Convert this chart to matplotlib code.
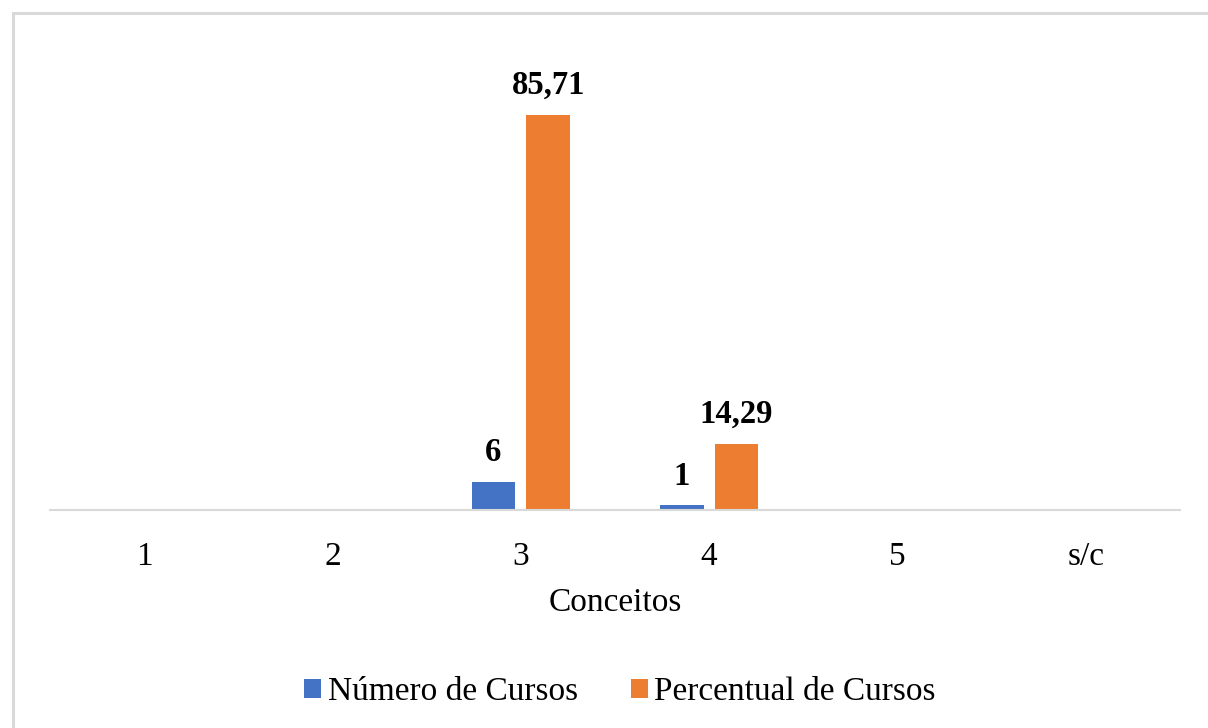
import numpy as np
import matplotlib
matplotlib.use("Agg")
import matplotlib.pyplot as plt
from matplotlib.patches import Rectangle

## data
conceitos = ["1", "2", "3", "4", "5", "s/c"]
numero_cursos = [0, 0, 6, 1, 0, 0]
percentual_cursos = [0, 0, 85.71, 14.29, 0, 0]

plt.rcParams['font.family'] = ['Liberation Serif', 'DejaVu Serif']

azul = "#4472C4"
laranja = "#ED7D31"
cinza = "#D9D9D9"

fig = plt.figure(figsize=(12.08, 7.28), dpi=100)
ax = fig.add_axes([50 / 1208, 1 - 510 / 728, 1130 / 1208, 461 / 728])

x = np.arange(len(conceitos))
w = 0.23
off = 0.145

b1 = ax.bar(x - off, numero_cursos, w, color=azul, label="Número de Cursos")
b2 = ax.bar(x + off, percentual_cursos, w, color=laranja, label="Percentual de Cursos")

def fmt(v):
    if v == 0:
        return ""
    if float(v).is_integer():
        return "%d" % v
    return ("%.2f" % v).replace(".", ",")

ax.bar_label(b1, labels=[fmt(v) for v in numero_cursos], padding=10,
             fontsize=23.5, fontweight="bold")
ax.bar_label(b2, labels=[fmt(v) for v in percentual_cursos], padding=10,
             fontsize=23.5, fontweight="bold")

ax.set_xlim(-0.5, len(conceitos) - 0.5)
ax.set_ylim(0, 100)
ax.set_xticks(x)
ax.set_xticklabels(conceitos, fontsize=24)
ax.tick_params(axis="x", length=0, pad=23)
ax.set_yticks([])
for s in ["top", "right", "left"]:
    ax.spines[s].set_visible(False)
ax.spines["bottom"].set_color(cinza)
ax.spines["bottom"].set_linewidth(1.5)
ax.set_xlabel("Conceitos", fontsize=24, labelpad=11)

fig.legend(loc="center", bbox_to_anchor=(620 / 1208, 1 - 692 / 728), ncol=2,
           frameon=False, fontsize=24, handlelength=0.5, handleheight=0.5,
           handletextpad=0.2, columnspacing=1.6)

# light frame round the chart (cut off at right and bottom)
fig.patches.append(Rectangle((13 / 1208, -0.1), 1.2, 1.1 - 13 / 728,
                             transform=fig.transFigure, fill=False,
                             edgecolor=cinza, linewidth=2.2))

fig.savefig("out.png", dpi=100)
